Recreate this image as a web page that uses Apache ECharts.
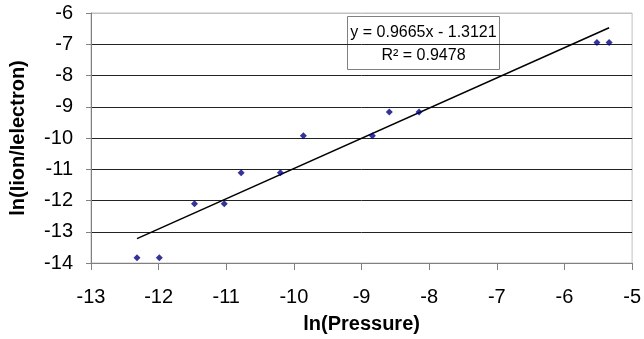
<!DOCTYPE html>
<html>
<head>
<meta charset="utf-8">
<script src="https://cdn.jsdelivr.net/npm/echarts@6/dist/echarts.min.js"></script>
<style>
  html, body { margin: 0; padding: 0; background: #fff; }
  #chart { width: 644px; height: 339px; }
</style>
</head>
<body>
<div id="chart"></div>
<script>
// measured points, ln(P) vs ln(Iion/Ielectron)
const lnPressure = [-12.32, -11.99, -11.47, -11.03, -10.78, -10.20, -9.86, -8.84, -8.59, -8.15, -5.52, -5.34]
const lnRatio = [-13.83, -13.83, -12.10, -12.10, -11.11, -11.11, -9.93, -9.93, -9.17, -9.17, -6.94, -6.94]

// excel linear trendline
const slope = 0.9665
const intercept = -1.3121
const rSquared = 0.9478

const xTicks = { min: -13, max: -5, step: 1 }
const yTicks = { min: -14, max: -6, step: 1 }

const font = '"Liberation Sans", Arial, sans-serif'

const points = lnPressure.map((x, i) => [x, lnRatio[i]])
const x0 = Math.min(...lnPressure)
const x1 = Math.max(...lnPressure)
const trend = [[x0, slope * x0 + intercept], [x1, slope * x1 + intercept]]

// gridline colours per tick from -14 up to -6 (bottom = axis, top = plot border)
const gridColors = ['#808080', '#222', '#222', '#222', '#222', '#222', '#222', '#222', '#c0c0c0']

const chart = echarts.init(document.getElementById('chart'))
chart.setOption({
  animation: false,
  backgroundColor: '#fff',
  textStyle: { fontFamily: font },
  grid: {
    left: 91, right: 11, top: 13, bottom: 75,
    show: true, borderColor: '#c0c0c0', borderWidth: 1
  },
  xAxis: {
    type: 'value',
    min: xTicks.min, max: xTicks.max, interval: xTicks.step,
    name: 'ln(Pressure)',
    nameLocation: 'middle',
    nameGap: 51,
    nameTextStyle: { fontFamily: font, fontSize: 20, fontWeight: 'bold', color: '#000' },
    axisLine: { onZero: false, lineStyle: { color: '#808080', width: 1 } },
    axisTick: { show: true, length: 7, lineStyle: { color: '#808080' } },
    axisLabel: { fontFamily: font, fontSize: 20, color: '#000', margin: 24 },
    splitLine: { show: false }
  },
  yAxis: {
    type: 'value',
    min: yTicks.min, max: yTicks.max, interval: yTicks.step,
    name: 'ln(Iion/Ielectron)',
    nameLocation: 'middle',
    nameRotate: 90,
    nameGap: 63,
    nameTextStyle: { fontFamily: font, fontSize: 20, fontWeight: 'bold', color: '#000' },
    axisLine: { show: true, onZero: false, lineStyle: { color: '#808080', width: 1 } },
    axisTick: { show: true, length: 5, lineStyle: { color: '#808080' } },
    axisLabel: { fontFamily: font, fontSize: 20, color: '#000', margin: 18 },
    splitLine: { show: true, lineStyle: { color: gridColors, width: 1 } }
  },
  series: [
    {
      type: 'line',
      data: trend,
      symbol: 'none',
      lineStyle: { color: '#000', width: 1.5 },
      silent: true,
      z: 2
    },
    {
      type: 'scatter',
      data: points,
      symbol: 'diamond',
      symbolSize: 7,
      itemStyle: { color: '#000080' },
      z: 3
    }
  ],
  graphic: [
    {
      type: 'group',
      left: 347, top: 16,
      z: 10,
      children: [
        {
          type: 'rect',
          shape: { x: 0, y: 0, width: 152, height: 53 },
          style: { fill: '#fff', stroke: '#808080', lineWidth: 1 }
        },
        {
          type: 'text',
          x: 76, y: 16,
          style: {
            text: 'y = ' + slope.toFixed(4) + 'x - ' + Math.abs(intercept).toFixed(4),
            font: '16px ' + font, fill: '#000',
            align: 'center', verticalAlign: 'middle'
          }
        },
        {
          type: 'text',
          x: 76, y: 39,
          style: {
            text: 'R² = ' + rSquared.toFixed(4),
            font: '16px ' + font, fill: '#000',
            align: 'center', verticalAlign: 'middle'
          }
        }
      ]
    }
  ]
})
</script>
</body>
</html>
